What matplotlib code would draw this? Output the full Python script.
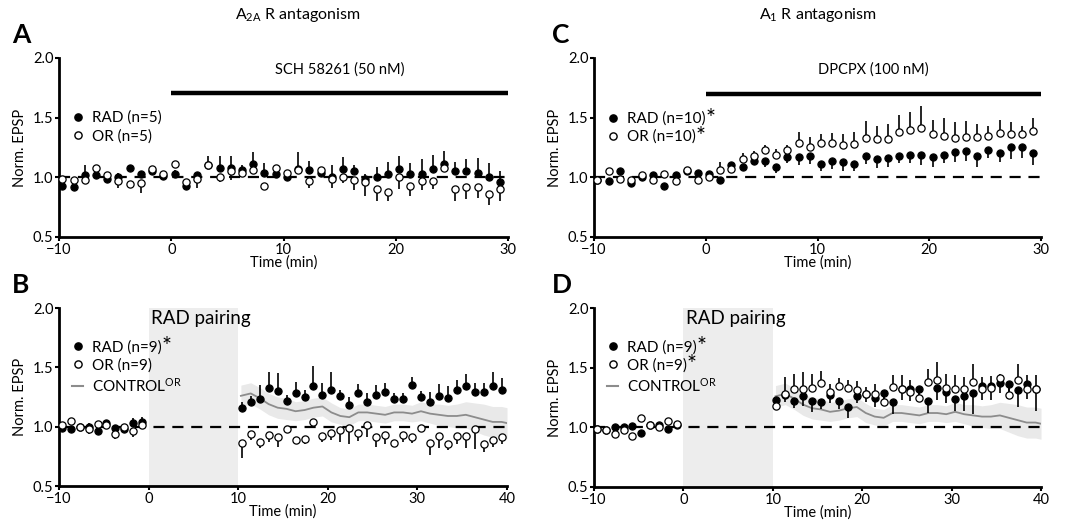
import numpy as np
import matplotlib
matplotlib.use('Agg')
import matplotlib.pyplot as plt
from matplotlib.lines import Line2D

plt.rcParams['font.family'] = ['Lato', 'DejaVu Sans']
plt.rcParams['mathtext.fontset'] = 'custom'
plt.rcParams['mathtext.rm'] = 'Lato'
plt.rcParams['mathtext.it'] = 'Lato:italic'
plt.rcParams['mathtext.bf'] = 'Lato:bold'

# ---------------- data ----------------
t_ac = np.arange(-9.7, 30, 1.0)          # 40 time points, panels A & C
t_pre = np.arange(-9.7, 0, 1.0)          # 10 baseline points, panels B & D
t_post = np.arange(10.4, 40, 1.0)        # 30 post-pairing points, panels B & D
t_bd = np.concatenate([t_pre, t_post])

# Panel A  (A2A antagonism, SCH 58261)
A_rad = [0.93, 0.92, 1.02, 1.02, 0.99, 1.00, 1.08, 1.03, 1.05, 1.01,
         1.03, 0.93, 1.02, 1.10, 1.08, 1.08, 1.06, 1.11, 1.04, 1.03,
         1.00, 1.07, 1.06, 1.04, 1.00, 1.07, 1.05, 0.99, 1.00, 1.03,
         1.07, 1.03, 1.03, 1.07, 1.11, 1.05, 1.05, 1.04, 1.00, 0.96]
A_rad_err = [0.02, 0.02, 0.08, 0.02, 0.02, 0.04, 0.02, 0.02, 0.02, 0.03,
             0.03, 0.02, 0.02, 0.08, 0.10, 0.10, 0.04, 0.10, 0.08, 0.06,
             0.02, 0.14, 0.08, 0.03, 0.10, 0.10, 0.05, 0.04, 0.09, 0.10,
             0.11, 0.09, 0.12, 0.12, 0.11, 0.08, 0.10, 0.12, 0.12, 0.09]
A_or = [0.99, 0.98, 0.98, 1.08, 1.02, 0.97, 0.94, 0.95, 1.07, 1.03,
        1.11, 0.96, 0.99, 1.10, 1.00, 1.05, 1.04, 1.06, 0.93, 1.08,
        1.04, 1.06, 0.97, 1.06, 0.99, 1.00, 0.98, 0.96, 0.90, 0.88,
        1.00, 0.93, 0.97, 0.97, 1.08, 0.90, 0.92, 0.92, 0.86, 0.90]
A_or_err = [0.02, 0.02, 0.04, 0.02, 0.02, 0.06, 0.03, 0.08, 0.02, 0.03,
            0.02, 0.06, 0.08, 0.02, 0.04, 0.07, 0.02, 0.02, 0.03, 0.03,
            0.05, 0.03, 0.06, 0.02, 0.08, 0.05, 0.09, 0.12, 0.10, 0.08,
            0.10, 0.09, 0.08, 0.07, 0.03, 0.10, 0.10, 0.09, 0.09, 0.10]

# Panel C  (A1 antagonism, DPCPX)
C_rad = [0.98, 0.97, 1.05, 0.95, 1.00, 1.02, 0.93, 1.02, 1.05, 1.04,
         1.03, 0.98, 1.10, 1.09, 1.14, 1.14, 1.09, 1.17, 1.17, 1.18,
         1.11, 1.14, 1.13, 1.11, 1.18, 1.15, 1.16, 1.18, 1.19, 1.19,
         1.17, 1.19, 1.21, 1.22, 1.18, 1.23, 1.20, 1.25, 1.25, 1.20]
C_rad_err = [0.02, 0.03, 0.02, 0.03, 0.02, 0.02, 0.03, 0.02, 0.02, 0.02,
             0.02, 0.04, 0.02, 0.03, 0.04, 0.05, 0.05, 0.05, 0.07, 0.07,
             0.06, 0.07, 0.08, 0.06, 0.07, 0.07, 0.07, 0.06, 0.07, 0.09,
             0.08, 0.07, 0.08, 0.08, 0.09, 0.07, 0.07, 0.10, 0.09, 0.10]
C_or = [0.98, 1.05, 0.99, 0.98, 1.02, 0.98, 1.03, 0.97, 1.06, 0.98,
        1.00, 1.06, 1.07, 1.15, 1.18, 1.23, 1.19, 1.23, 1.29, 1.25,
        1.29, 1.29, 1.27, 1.28, 1.33, 1.32, 1.32, 1.38, 1.40, 1.41,
        1.36, 1.35, 1.33, 1.34, 1.34, 1.35, 1.37, 1.36, 1.36, 1.39]
C_or_err = [0.02, 0.02, 0.02, 0.02, 0.02, 0.02, 0.02, 0.02, 0.02, 0.02,
            0.02, 0.07, 0.02, 0.05, 0.04, 0.04, 0.05, 0.04, 0.09, 0.09,
            0.07, 0.08, 0.09, 0.10, 0.14, 0.11, 0.13, 0.14, 0.15, 0.19,
            0.12, 0.15, 0.13, 0.13, 0.11, 0.08, 0.11, 0.10, 0.07, 0.11]

# Panel B  (RAD pairing, A2A antagonism)
B_rad = [0.99, 0.98, 1.00, 1.00, 0.96, 1.03, 0.99, 0.98, 1.03, 1.04,
         1.16, 1.21, 1.23, 1.33, 1.30, 1.22, 1.28, 1.25, 1.34, 1.27,
         1.31, 1.26, 1.18, 1.28, 1.21, 1.27, 1.29, 1.23, 1.23, 1.35,
         1.25, 1.21, 1.26, 1.24, 1.31, 1.34, 1.29, 1.29, 1.34, 1.31]
B_rad_err = [0.02, 0.02, 0.02, 0.03, 0.02, 0.02, 0.02, 0.02, 0.04, 0.04,
             0.05, 0.05, 0.12, 0.13, 0.15, 0.05, 0.10, 0.06, 0.17, 0.10,
             0.15, 0.05, 0.07, 0.08, 0.07, 0.08, 0.08, 0.05, 0.05, 0.07,
             0.05, 0.08, 0.10, 0.10, 0.08, 0.10, 0.08, 0.08, 0.12, 0.10]
B_or = [1.01, 1.05, 1.00, 0.98, 1.02, 1.01, 0.94, 1.00, 0.96, 1.01,
        0.86, 0.94, 0.87, 0.93, 0.91, 0.98, 0.89, 0.90, 1.04, 0.92,
        0.95, 0.97, 0.99, 0.95, 1.01, 0.91, 0.93, 0.86, 0.93, 0.91,
        0.99, 0.86, 0.92, 0.85, 0.92, 0.92, 0.98, 0.85, 0.89, 0.91]
B_or_err = [0.02, 0.02, 0.02, 0.04, 0.02, 0.02, 0.04, 0.02, 0.05, 0.02,
            0.12, 0.05, 0.05, 0.06, 0.08, 0.03, 0.03, 0.05, 0.02, 0.05,
            0.06, 0.10, 0.14, 0.07, 0.10, 0.08, 0.08, 0.02, 0.06, 0.05,
            0.03, 0.10, 0.10, 0.05, 0.07, 0.10, 0.17, 0.06, 0.06, 0.06]

# Panel D  (RAD pairing, A1 antagonism)
D_rad = [0.99, 0.98, 1.00, 1.00, 1.01, 0.95, 1.02, 1.02, 0.99, 1.02,
         1.23, 1.27, 1.22, 1.26, 1.22, 1.21, 1.27, 1.22, 1.17, 1.26,
         1.28, 1.25, 1.29, 1.21, 1.32, 1.32, 1.32, 1.22, 1.33, 1.30,
         1.24, 1.26, 1.29, 1.35, 1.35, 1.37, 1.36, 1.31, 1.36, 1.32]
D_rad_err = [0.02, 0.02, 0.02, 0.02, 0.02, 0.02, 0.02, 0.02, 0.03, 0.03,
             0.06, 0.06, 0.06, 0.08, 0.09, 0.06, 0.07, 0.07, 0.09, 0.06,
             0.07, 0.08, 0.08, 0.10, 0.09, 0.10, 0.08, 0.10, 0.10, 0.10,
             0.10, 0.12, 0.18, 0.12, 0.12, 0.08, 0.12, 0.14, 0.12, 0.18]
D_or = [0.99, 0.98, 0.94, 0.98, 0.93, 1.08, 1.02, 1.00, 1.05, 1.03,
        1.18, 1.28, 1.32, 1.32, 1.33, 1.37, 1.30, 1.35, 1.33, 1.31,
        1.28, 1.28, 1.21, 1.34, 1.32, 1.30, 1.25, 1.38, 1.40, 1.33,
        1.32, 1.32, 1.38, 1.32, 1.33, 1.41, 1.27, 1.40, 1.32, 1.32]
D_or_err = [0.02, 0.02, 0.02, 0.02, 0.02, 0.02, 0.02, 0.02, 0.02, 0.02,
            0.06, 0.14, 0.13, 0.14, 0.12, 0.10, 0.06, 0.06, 0.07, 0.08,
            0.06, 0.08, 0.08, 0.10, 0.12, 0.10, 0.08, 0.11, 0.15, 0.12,
            0.12, 0.10, 0.15, 0.10, 0.10, 0.04, 0.10, 0.13, 0.12, 0.12]

# CONTROL^OR (grey line with SEM band), shared by B and D
t_ctrl = [10.3, 11.4, 12.4, 13.4, 14.4, 15.4, 16.4, 17.4, 18.4, 19.4,
          20.4, 21.4, 22.4, 23.4, 24.4, 25.4, 26.4, 27.4, 28.4, 29.4,
          30.4, 31.4, 32.4, 33.4, 34.4, 35.4, 36.4, 37.4, 38.4, 39.4, 40.0]
ctrl = [1.26, 1.28, 1.24, 1.19, 1.16, 1.15, 1.13, 1.14, 1.16, 1.17,
        1.12, 1.09, 1.08, 1.12, 1.12, 1.11, 1.10, 1.12, 1.12, 1.11,
        1.13, 1.11, 1.10, 1.09, 1.09, 1.10, 1.08, 1.06, 1.04, 1.04, 1.03]
ctrl_sem = [0.09, 0.09, 0.09, 0.09, 0.09, 0.09, 0.08, 0.08, 0.08, 0.08,
            0.08, 0.07, 0.07, 0.07, 0.07, 0.07, 0.07, 0.07, 0.07, 0.07,
            0.08, 0.08, 0.09, 0.09, 0.10, 0.11, 0.12, 0.13, 0.13, 0.13, 0.13]

x_ticks_ac = [-10, 0, 10, 20, 30]
x_ticks_bd = [-10, 0, 10, 20, 30, 40]
y_ticks = [0.5, 1.0, 1.5, 2.0]

# ---------------- figure ----------------
W, H = 1084, 525
fig = plt.figure(figsize=(W / 100, H / 100), dpi=100)


def px_axes(l, t, r, b):
    return fig.add_axes([l / W, 1 - b / H, (r - l) / W, (b - t) / H])


axA = px_axes(59, 58, 508, 237)
axC = px_axes(594, 58, 1041, 237)
axB = px_axes(59, 308, 507, 486)
axD = px_axes(594, 308, 1041, 487)


def style(ax, xmax, xticks):
    ax.set_xlim(-10, xmax)
    ax.set_ylim(0.5, 2.0)
    for s in ('top', 'right'):
        ax.spines[s].set_visible(False)
    for s in ('left', 'bottom'):
        ax.spines[s].set_linewidth(2)
    ax.set_xticks(xticks)
    ax.set_yticks(y_ticks)
    ax.set_yticklabels(['%.1f' % v for v in y_ticks])
    ax.tick_params(width=1.5, length=3, labelsize=10.5, pad=1)
    ax.set_xlabel('Time (min)', fontsize=10.5, labelpad=-1)
    ax.set_ylabel('Norm. EPSP', fontsize=10.5, labelpad=4)
    ax.axhline(1.0, color='k', lw=1.6, dashes=(5, 3.5), zorder=1)


def series(ax, t, rad, rad_err, orr, or_err, rad_up):
    z = np.zeros(len(t))
    rad_yerr = [z, rad_err] if rad_up else [rad_err, z]
    or_yerr = [or_err, z] if rad_up else [z, or_err]
    ax.errorbar(t, rad, yerr=rad_yerr, fmt='o', color='k', mfc='k', mec='k',
                ms=5.2, mew=0.8, elinewidth=1.2, capsize=0, zorder=3)
    ax.errorbar(t, orr, yerr=or_yerr, fmt='o', color='k', mfc='white', mec='k',
                ms=5.2, mew=0.9, elinewidth=1.2, capsize=0, zorder=4)


def control(ax):
    c = np.array(ctrl)
    s = np.array(ctrl_sem)
    ax.fill_between(t_ctrl, c - s, c + s, color='#e9e9e9', lw=0, zorder=0.5)
    ax.plot(t_ctrl, c, color='#8c8c8c', lw=1.3, zorder=2)


star_marks = []


def legend(ax, labels, with_ctrl, anchor, stars):
    hs = [Line2D([], [], ls='none', marker='o', ms=5.2, mfc='k', mec='k'),
          Line2D([], [], ls='none', marker='o', ms=5.2, mfc='white', mec='k')]
    if with_ctrl:
        hs.append(Line2D([], [], color='#8c8c8c', lw=1.5))
    leg = ax.legend(hs, labels, loc='upper left', bbox_to_anchor=anchor,
                    frameon=False, fontsize=11, handlelength=0.7, handletextpad=0.6,
                    labelspacing=0.25, borderaxespad=0, borderpad=0)
    for i in stars:
        star_marks.append((leg, i))


# Panel A
style(axA, 30, x_ticks_ac)
series(axA, t_ac, A_rad, A_rad_err, A_or, A_or_err, rad_up=True)
axA.plot([0, 30], [1.71, 1.71], color='k', lw=3.2, solid_capstyle='butt')
axA.text(15, 1.9, 'SCH 58261 (50 nM)', ha='center', va='center', fontsize=10.5)
legend(axA, ['RAD (n=5)', 'OR (n=5)'], False, (0.03, 0.705), [])

# Panel C
style(axC, 30, x_ticks_ac)
series(axC, t_ac, C_rad, C_rad_err, C_or, C_or_err, rad_up=False)
axC.plot([0, 30], [1.70, 1.70], color='k', lw=3.2, solid_capstyle='butt')
axC.text(15, 1.9, 'DPCPX (100 nM)', ha='center', va='center', fontsize=10.5)
legend(axC, ['RAD (n=10)', 'OR (n=10)'], False, (0.03, 0.70), [0, 1])

# Panel B
style(axB, 40, x_ticks_bd)
axB.axvspan(0, 10, color='#ededed', lw=0, zorder=0)
control(axB)
series(axB, t_bd, B_rad, B_rad_err, B_or, B_or_err, rad_up=True)
axB.text(0.3, 1.98, 'RAD pairing', ha='left', va='top', fontsize=13.5)
legend(axB, ['RAD (n=9)', 'OR (n=9)', r'CONTROL$^{\mathrm{OR}}$'], True, (0.03, 0.82), [0])

# Panel D
style(axD, 40, x_ticks_bd)
axD.axvspan(0, 10, color='#ededed', lw=0, zorder=0)
control(axD)
series(axD, t_bd, D_rad, D_rad_err, D_or, D_or_err, rad_up=False)
axD.text(0.3, 1.98, 'RAD pairing', ha='left', va='top', fontsize=13.5)
legend(axD, ['RAD (n=9)', 'OR (n=9)', r'CONTROL$^{\mathrm{OR}}$'], True, (0.03, 0.82), [0, 1])

# titles and panel letters
fig.text(298 / W, 1 - 15 / H, r'A$_{\mathrm{2A}}$ R antagonism', ha='center', va='center', fontsize=11.5)
fig.text(818 / W, 1 - 15 / H, r'A$_{1}$ R antagonism', ha='center', va='center', fontsize=11.5)
for letter, x, y in [('A', 12, 35), ('C', 552, 35), ('B', 12, 285), ('D', 552, 285)]:
    fig.text(x / W, 1 - y / H, letter, ha='left', va='center', fontsize=19, fontweight='bold')

# significance asterisks after legend labels (raised, like superscripts)
fig.canvas.draw()
renderer = fig.canvas.get_renderer()
for leg, i in star_marks:
    bb = leg.get_texts()[i].get_window_extent(renderer)
    fig.text((bb.x1 - 0.5) / W, (bb.y1 - 6.5) / H, '*', ha='left', va='center',
             fontsize=17)

fig.savefig('out.png', dpi=100)
